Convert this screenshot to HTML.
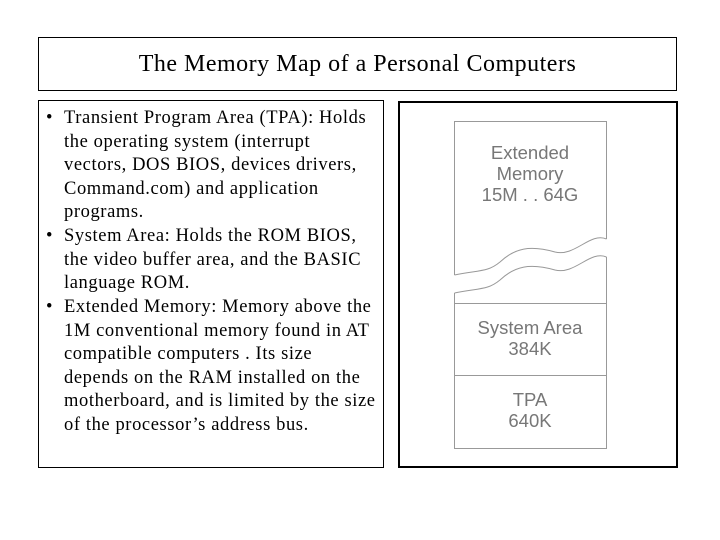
<!DOCTYPE html>
<html><head><style>
body{margin:0;width:720px;height:540px;background:#fff;position:relative;font-family:"Liberation Serif",serif;overflow:hidden}
.b{position:absolute;box-sizing:border-box}
.t{position:absolute;white-space:nowrap;font-size:18.5px;letter-spacing:0.6px;line-height:23.5px;color:#000}
.s{font-family:"Liberation Sans",sans-serif;color:#777;font-size:18.5px;text-align:center;position:absolute;line-height:21px;width:152px;left:454px}
</style></head><body>
<div class="b" style="left:38px;top:37px;width:639px;height:54px;border:1px solid #000"></div>
<div class="t" style="left:38px;width:639px;top:51px;text-align:center;font-size:24px;letter-spacing:0.5px;line-height:26px">The Memory Map of a Personal Computers</div>
<div class="b" style="left:38px;top:100px;width:346px;height:368px;border:1px solid #000"></div>
<div class="t" style="left:46px;top:107px">•</div>
<div class="t" style="left:64px;top:107px">Transient Program Area (TPA): Holds<br>the operating system (interrupt<br>vectors, DOS BIOS, devices drivers,<br>Command.com) and application<br>programs.</div>
<div class="t" style="left:46px;top:225px">•</div>
<div class="t" style="left:64px;top:225px">System Area: Holds the ROM BIOS,<br>the video buffer area, and the BASIC<br>language ROM.</div>
<div class="t" style="left:46px;top:296px">•</div>
<div class="t" style="left:64px;top:296px">Extended Memory: Memory above the<br>1M conventional memory found in AT<br>compatible computers . Its size<br>depends on the RAM installed on the<br>motherboard, and is limited by the size<br>of the processor’s address bus.</div>
<div class="b" style="left:398px;top:101px;width:280px;height:367px;border:2.5px solid #000"></div>
<svg class="b" style="left:0;top:0" width="720" height="540">
<g fill="none" stroke="#999" stroke-width="1">
<path d="M454.5 275 L454.5 121.5 L606.5 121.5 L606.5 239"/>
<path d="M454.5 275 C480 270 488 272 500 262 C515 248 530 245 555 252 C575 257 590 232 606.5 239"/>
<path d="M454.5 293 C480 288 488 290 500 280 C515 266 530 263 555 270 C575 275 590 250 606.5 257"/>
<path d="M454.5 293 L454.5 448.5 L606.5 448.5 L606.5 257"/>
<path d="M454.5 303.5 H606.5 M454.5 375.5 H606.5"/>
</g></svg>
<div class="s" style="top:142px">Extended<br>Memory<br>15M . . 64G</div>
<div class="s" style="top:317px">System Area<br>384K</div>
<div class="s" style="top:389px">TPA<br>640K</div>
</body></html>
